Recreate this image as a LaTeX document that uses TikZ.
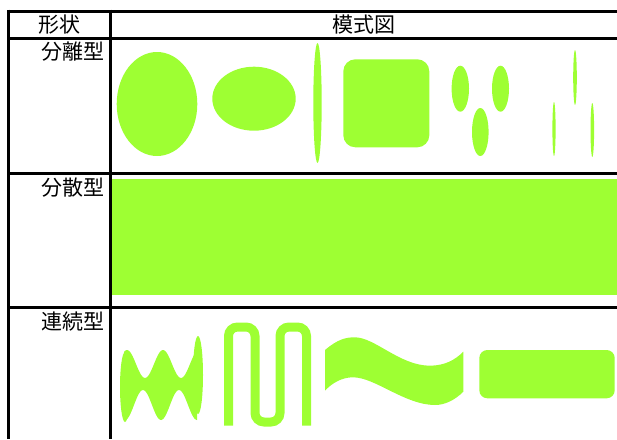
\documentclass[tikz,border=0pt]{standalone}
\usepackage{fontspec}
\newfontfamily\jp{Noto Sans CJK JP}
\definecolor{lime}{RGB}{158,255,51}
\begin{document}
\begin{tikzpicture}[x=1pt,y=-1pt,
  rule/.style={line width=3pt,black},
  shp/.style={fill=lime,draw=none},
  lbl/.style={font=\jp\fontsize{21}{21}\selectfont,inner sep=0pt}]
\useasboundingbox (0,0) rectangle (617,439);
% table
\draw[rule] (8,11) -- (617,11);
\draw[rule] (8,38) -- (617,38);
\draw[rule] (8,173.5) -- (617,173.5);
\draw[rule] (8,307.5) -- (617,307.5);
\draw[rule] (8,9.5) -- (8,439);
\draw[rule] (110,9.5) -- (110,439);
% texts
\node[lbl,anchor=base] (h1) at (59,32) {形状};
\node[lbl,anchor=base] (h2) at (364,32) {模式図};
\node[lbl,anchor=base east] (r1) at (105,59.5) {分離型};
\node[lbl,anchor=base east] (r2) at (105,195) {分散型};
\node[lbl,anchor=base east] (r3) at (105,329) {連続型};
% row 1: separated
\fill[shp] (157,104) ellipse [x radius=40.3, y radius=52];
\fill[shp] (254,98.7) ellipse [x radius=41.7, y radius=32];
\fill[shp] (317.5,103) ellipse [x radius=4.2, y radius=60];
\fill[shp,rounded corners=12pt] (343.3,59.3) rectangle (429.3,147.3);
\fill[shp] (460.3,88.7) ellipse [x radius=8.7, y radius=23];
\fill[shp] (500.5,88.7) ellipse [x radius=8.5, y radius=23];
\fill[shp] (480.3,132) ellipse [x radius=8.3, y radius=24];
\fill[shp] (575,77.5) ellipse [x radius=1.8, y radius=27.5];
\fill[shp] (554,129) ellipse [x radius=1.6, y radius=27];
\fill[shp] (592.3,130) ellipse [x radius=1.8, y radius=27];
% row 2: dispersed
\fill[shp] (112,179) rectangle (617,295);
% row 3: continuous
\fill[shp] plot[domain=124:197,samples=60] (\x,{364-14*cos(10*(\x-127))})
  -- plot[domain=197:124,samples=60] (\x,{405+15*cos(10*(\x-125))}) -- cycle;
\fill[shp] (125,387) ellipse [x radius=5, y radius=35];
\fill[shp] (198,375) ellipse [x radius=5, y radius=39];
\draw[lime,line width=9pt,rounded corners=9pt]
  (228.5,425.5) -- (228.5,327) -- (255,327) -- (255,422) -- (280,422) -- (280,327) -- (306.5,327) -- (306.5,425.5);
\fill[shp] (325,350) .. controls (338,339) and (346,337.3) .. (355,337.3)
  .. controls (375,337.5) and (400,365.7) .. (430,365.7)
  .. controls (445,365.5) and (455,360) .. (463.3,351.7)
  -- (463.3,391.7)
  .. controls (455,400) and (445,405) .. (435,405)
  .. controls (405,405) and (375,377.3) .. (353,377.3)
  .. controls (342,377.3) and (332,383) .. (325,390.7) -- cycle;
\fill[shp,rounded corners=8pt] (479.3,350) rectangle (614.7,398.3);
\end{tikzpicture}
\end{document}
